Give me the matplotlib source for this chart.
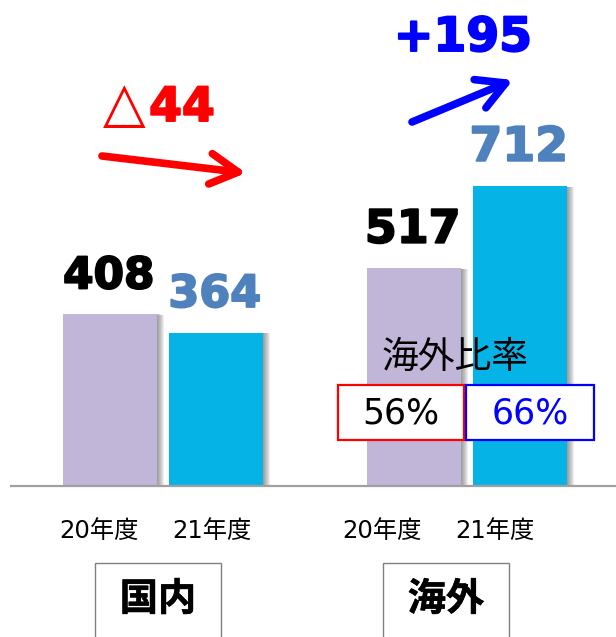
import matplotlib
matplotlib.use("Agg")
import matplotlib.pyplot as plt
from matplotlib.patches import Rectangle
import matplotlib.patheffects as pe

# ---- data ----
groups = ["国内", "海外"]
years = ["20年度", "21年度"]
values = [408, 364, 517, 712]          # 国内20, 国内21, 海外20, 海外21
changes = ["△44", "+195"]
ratios = ["56%", "66%"]
ratio_title = "海外比率"

# ---- style ----
W, H = 616, 637
base_py = 485.5          # baseline pixel row
scale = 0.42             # pixels per unit
bar_x = [109.5, 215.5, 413.5, 519.5]
bar_w = 94
bar_colors = ["#C1B6D8", "#06B3E7", "#C1B6D8", "#06B3E7"]
label_colors = ["black", "#4F81BD", "black", "#4F81BD"]
label_sizes = [31.5, 32, 33, 34]
jp = ["Noto Sans CJK JP", "DejaVu Sans"]
num_jp = ["DejaVu Sans", "Noto Sans CJK JP"]


def fat(c, w=1.4):
    return [pe.withStroke(linewidth=w, foreground=c)]


fig = plt.figure(figsize=(W / 100, H / 100), dpi=100)
ax = fig.add_axes([0, 0, 1, 1])
ax.set_xlim(0, W)
ax.set_ylim(-(H - base_py) / scale, base_py / scale)
ax.axis("off")

# shadows
for i, (x, v) in enumerate(zip(bar_x, values)):
    for k in range(1, 8):
        ax.bar(x + k * 1.0, v, width=bar_w, bottom=-k * 0.2, color="#404040",
               alpha=0.09, zorder=1, linewidth=0)
ax.bar(bar_x, values, width=bar_w, color=bar_colors, zorder=2, linewidth=0)

# baseline
ax.plot([10, W], [0, 0], color="#A0A0A0", lw=1.6, zorder=3, solid_capstyle="butt")

# value labels
for x, v, c, s in zip(bar_x, values, label_colors, label_sizes):
    ax.annotate(str(v), (x, v), xytext=(-0.5, 18.5), textcoords="offset points",
                ha="center", va="baseline", fontsize=s, fontweight="bold",
                color=c, family="DejaVu Sans", zorder=5, path_effects=fat(c))

# overlay axes in pixel coordinates for annotations
ov = fig.add_axes([0, 0, 1, 1])
ov.set_xlim(0, W)
ov.set_ylim(H, 0)
ov.axis("off")
ov.patch.set_alpha(0)

# year tick labels
year_px = [99, 212, 382, 495]
for i, x in enumerate(year_px):
    ov.text(x, 531, years[i % 2], ha="center", va="center", fontsize=17.5,
            family=num_jp, color="black")

# group boxes
for gx, g in zip([158, 446], groups):
    ov.add_patch(Rectangle((gx - 63, 563), 126, 90, fill=False,
                           edgecolor="#808080", lw=1.0, zorder=4))
    ov.text(gx, 599, g, ha="center", va="center", fontsize=27.5,
            fontweight="bold", family=jp, color="black",
            path_effects=fat("black", 0.4))

# change labels
ov.text(124, 121, changes[0][0], ha="center", va="baseline", fontsize=40,
        color="red", family="DejaVu Sans")
ov.text(182, 121, changes[0][1:], ha="center", va="baseline", fontsize=34,
        color="red", fontweight="bold", family="DejaVu Sans",
        path_effects=fat("red"))
ov.text(463, 51, changes[1], ha="center", va="baseline", fontsize=34,
        color="#0000FF", fontweight="bold", family="DejaVu Sans",
        path_effects=fat("#0000FF"))

# arrows
ov.annotate("", xy=(246, 173), xytext=(102, 156),
            arrowprops=dict(arrowstyle="->,head_length=1.0,head_width=0.55",
                            color="red", lw=5.5, mutation_scale=20,
                            capstyle="round", joinstyle="round",
                            shrinkA=0, shrinkB=0))
ov.annotate("", xy=(513, 80), xytext=(412, 122),
            arrowprops=dict(arrowstyle="->,head_length=1.0,head_width=0.55",
                            color="#0000FF", lw=5.5, mutation_scale=20,
                            capstyle="round", joinstyle="round",
                            shrinkA=0, shrinkB=0))

# overseas ratio
ov.text(455, 357, ratio_title, ha="center", va="center", fontsize=26.5,
        family=jp, color="black")
for (x0, x1), r, ec, tc in zip([(338, 464), (466, 594)], ratios,
                               ["red", "#0000FF"], ["black", "#0000FF"]):
    ov.add_patch(Rectangle((x0, 385), x1 - x0, 55, facecolor="white",
                           edgecolor=ec, lw=1.6, zorder=4))
    ov.text((x0 + x1) / 2, 424, r, ha="center", va="baseline", fontsize=25,
            family="DejaVu Sans", color=tc, zorder=5)

fig.savefig("out.png", dpi=100)
